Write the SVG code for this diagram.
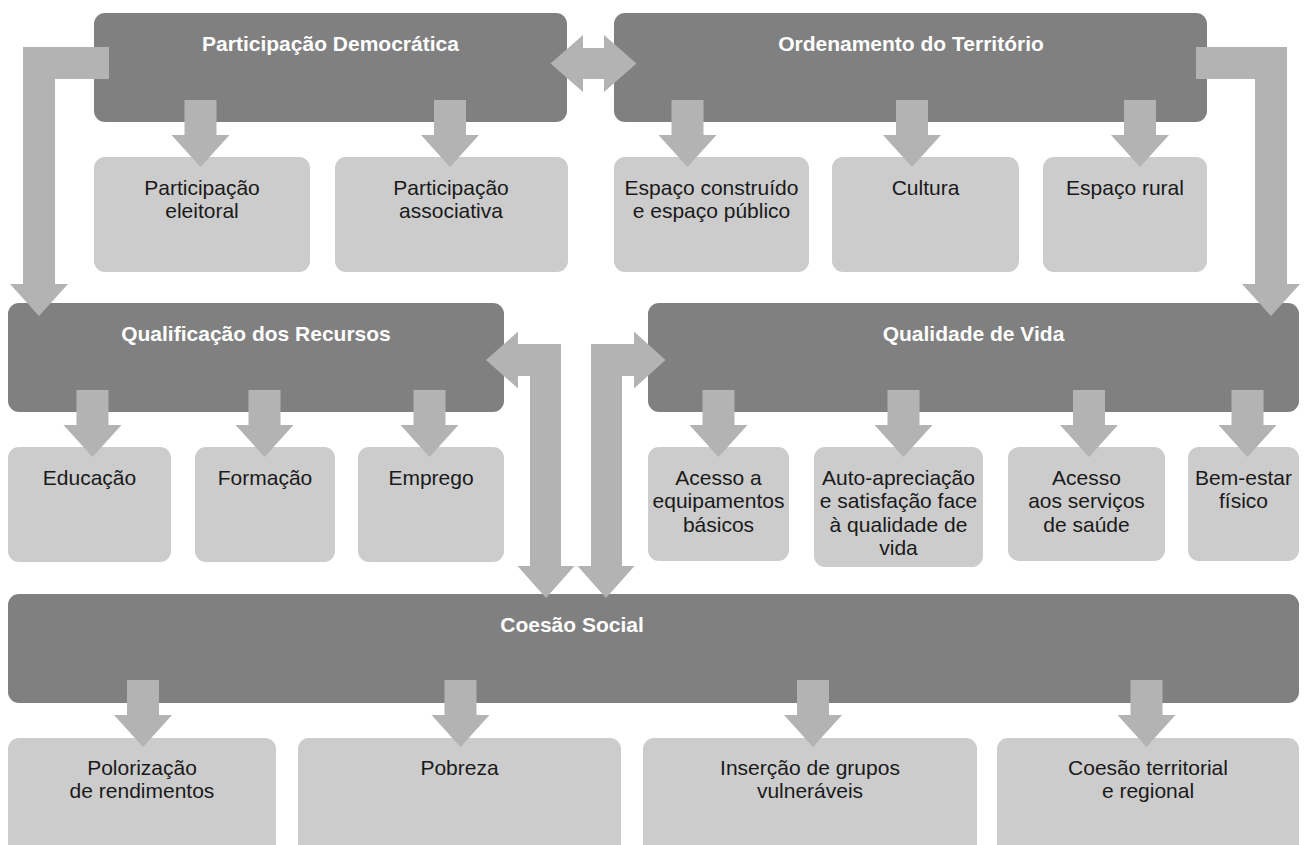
<svg xmlns="http://www.w3.org/2000/svg" xmlns:xlink="http://www.w3.org/1999/xlink" width="1306" height="845" viewBox="0 0 1306 845">
<style>
.hub{fill:#808080}
.leaf{fill:#cccccc}
.arr{fill:#b3b3b3}
.ht{font-family:"Liberation Sans",Arial,sans-serif;font-weight:bold;font-size:21px;fill:#ffffff;text-anchor:middle}
.lt{font-family:"Liberation Sans",Arial,sans-serif;font-size:21px;fill:#1a1a1a;text-anchor:middle}
</style>
<defs>
<path id="dn" d="M-16,0 H16 V35 H29 L0,67 L-29,35 H-16 Z"/>
</defs>
<rect width="1306" height="845" fill="#ffffff"/>

<g id="hub-pd"><rect class="hub" x="94" y="13" width="473" height="109" rx="11"/><text class="ht" x="330.5" y="51">Participação Democrática</text></g>
<g id="hub-ot"><rect class="hub" x="614" y="13" width="593" height="109" rx="11"/><text class="ht" x="911" y="51">Ordenamento do Território</text></g>

<g id="leaf-eleitoral"><rect class="leaf" x="94" y="157" width="216" height="115" rx="11"/><text class="lt" x="202" y="195">Participação</text><text class="lt" x="202" y="218">eleitoral</text></g>
<g id="leaf-associativa"><rect class="leaf" x="335" y="157" width="233" height="115" rx="11"/><text class="lt" x="451" y="195">Participação</text><text class="lt" x="451" y="218">associativa</text></g>
<g id="leaf-espaco"><rect class="leaf" x="614" y="157" width="195" height="115" rx="11"/><text class="lt" x="711.5" y="195">Espaço construído</text><text class="lt" x="711.5" y="218">e espaço público</text></g>
<g id="leaf-cultura"><rect class="leaf" x="832" y="157" width="187" height="115" rx="11"/><text class="lt" x="925.5" y="195">Cultura</text></g>
<g id="leaf-rural"><rect class="leaf" x="1043" y="157" width="164" height="115" rx="11"/><text class="lt" x="1125" y="195">Espaço rural</text></g>

<g id="hub-qr"><rect class="hub" x="8" y="303" width="496" height="109" rx="11"/><text class="ht" x="256" y="341">Qualificação dos Recursos</text></g>
<g id="hub-qv"><rect class="hub" x="648" y="303" width="651" height="109" rx="11"/><text class="ht" x="973.5" y="341">Qualidade de Vida</text></g>

<g id="leaf-educacao"><rect class="leaf" x="8" y="447" width="163" height="115" rx="11"/><text class="lt" x="89.5" y="485">Educação</text></g>
<g id="leaf-formacao"><rect class="leaf" x="195" y="447" width="140" height="115" rx="11"/><text class="lt" x="265" y="485">Formação</text></g>
<g id="leaf-emprego"><rect class="leaf" x="358" y="447" width="146" height="115" rx="11"/><text class="lt" x="431" y="485">Emprego</text></g>
<g id="leaf-equip"><rect class="leaf" x="648" y="447" width="141" height="114" rx="11"/><text class="lt" x="718.5" y="485">Acesso a</text><text class="lt" x="718.5" y="508">equipamentos</text><text class="lt" x="718.5" y="531.5">básicos</text></g>
<g id="leaf-auto"><rect class="leaf" x="814" y="447" width="169" height="120" rx="11"/><text class="lt" x="898.5" y="485">Auto-apreciação</text><text class="lt" x="898.5" y="508">e satisfação face</text><text class="lt" x="898.5" y="531.5">à qualidade de</text><text class="lt" x="898.5" y="555">vida</text></g>
<g id="leaf-saude"><rect class="leaf" x="1008" y="447" width="157" height="114" rx="11"/><text class="lt" x="1086.5" y="485">Acesso</text><text class="lt" x="1086.5" y="508">aos serviços</text><text class="lt" x="1086.5" y="531.5">de saúde</text></g>
<g id="leaf-bemestar"><rect class="leaf" x="1188" y="447" width="111" height="114" rx="11"/><text class="lt" x="1243.5" y="485">Bem-estar</text><text class="lt" x="1243.5" y="508">físico</text></g>

<g id="hub-cs"><rect class="hub" x="8" y="594" width="1291" height="109" rx="11"/><text class="ht" x="572" y="632">Coesão Social</text></g>

<g id="leaf-polo"><rect class="leaf" x="8" y="738" width="268" height="130" rx="11"/><text class="lt" x="142" y="775">Polorização</text><text class="lt" x="142" y="798">de rendimentos</text></g>
<g id="leaf-pobreza"><rect class="leaf" x="298" y="738" width="323" height="130" rx="11"/><text class="lt" x="459.5" y="775">Pobreza</text></g>
<g id="leaf-insercao"><rect class="leaf" x="643" y="738" width="334" height="130" rx="11"/><text class="lt" x="810" y="775">Inserção de grupos</text><text class="lt" x="810" y="798">vulneráveis</text></g>
<g id="leaf-coesao"><rect class="leaf" x="997" y="738" width="302" height="130" rx="11"/><text class="lt" x="1148" y="775">Coesão territorial</text><text class="lt" x="1148" y="798">e regional</text></g>

<g id="connectors" class="arr">
<use xlink:href="#dn" x="200.5" y="100"/>
<use xlink:href="#dn" x="450" y="100"/>
<use xlink:href="#dn" x="687.5" y="100"/>
<use xlink:href="#dn" x="912" y="100"/>
<use xlink:href="#dn" x="1140" y="100"/>
<use xlink:href="#dn" x="92.5" y="390"/>
<use xlink:href="#dn" x="264.5" y="390"/>
<use xlink:href="#dn" x="429.5" y="390"/>
<use xlink:href="#dn" x="718.5" y="390"/>
<use xlink:href="#dn" x="903.5" y="390"/>
<use xlink:href="#dn" x="1089" y="390"/>
<use xlink:href="#dn" x="1247.5" y="390"/>
<use xlink:href="#dn" x="143" y="680"/>
<use xlink:href="#dn" x="460.5" y="680"/>
<use xlink:href="#dn" x="813" y="680"/>
<use xlink:href="#dn" x="1146.5" y="680"/>
<polygon points="23,47 109,47 109,79 55,79 55,284 68,284 39,316 10,284 23,284"/>
<polygon points="1196,47 1287,47 1287,284 1300,284 1271,316 1242,284 1255,284 1255,79 1196,79"/>
<polygon points="550.5,63.5 583,35 583,48 604,48 604,35 636.5,63.5 604,92 604,79 583,79 583,92"/>
<polygon points="486,360 518,331.5 518,344 561,344 561,566 574.5,566 546,598 517.5,566 530,566 530,376 518,376 518,388.5"/>
<polygon points="591,344 634,344 634,331.5 665.5,360 634,388.5 634,376 622,376 622,566 634.5,566 606,598 577.5,566 591,566"/>
</g>
</svg>
